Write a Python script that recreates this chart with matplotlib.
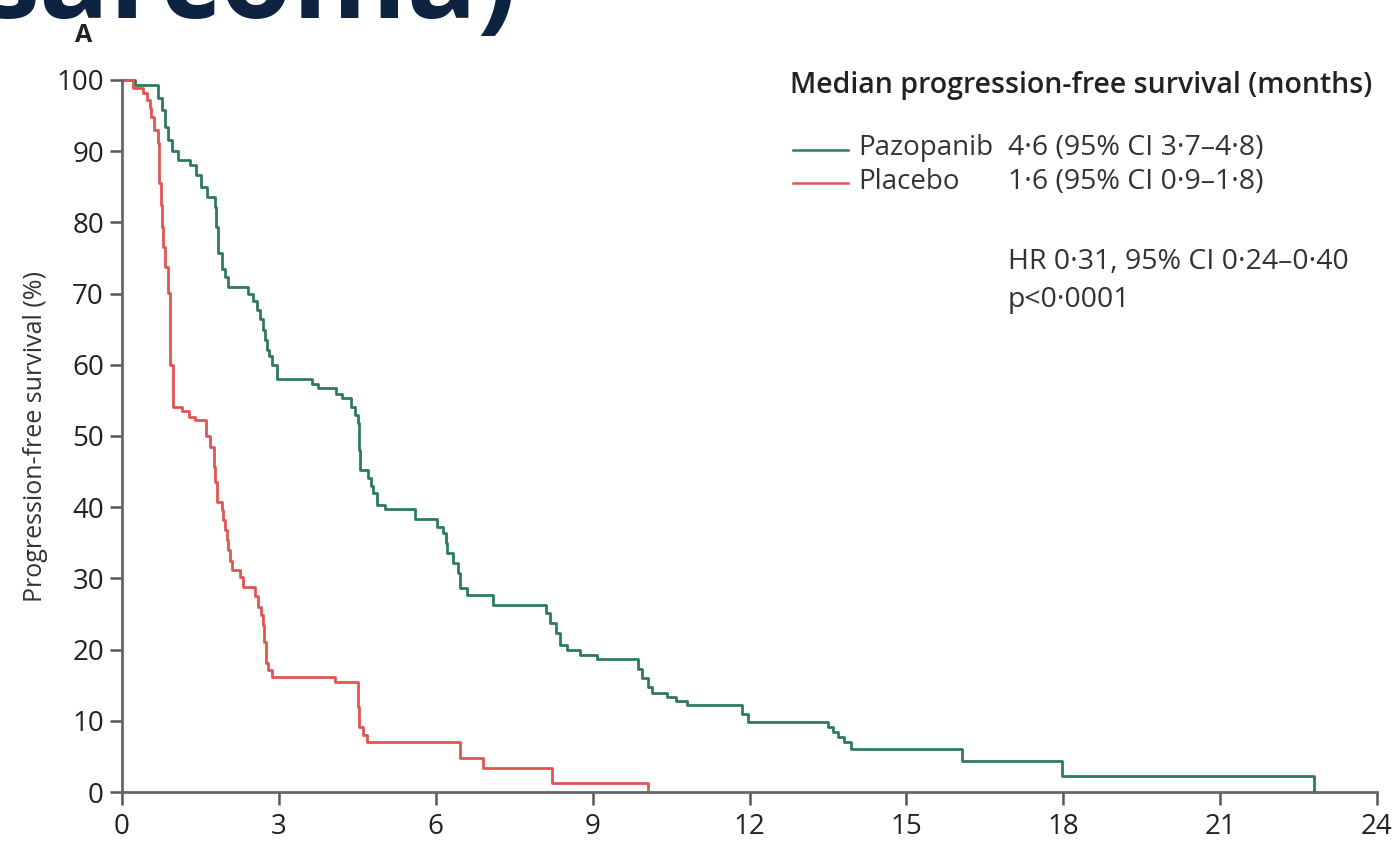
import matplotlib.pyplot as plt

# Kaplan-Meier step data (months, % progression-free)
pazopanib_t = [0, 0.24, 0.68, 0.76, 0.82, 0.88, 0.95, 1.07, 1.3, 1.42, 1.52, 1.62, 1.77, 1.8,
               1.83, 1.92, 1.97, 2.03, 2.4, 2.5, 2.58, 2.64, 2.69, 2.74, 2.77, 2.82, 2.87, 2.96,
               3.63, 3.75, 4.1, 4.2, 4.38, 4.45, 4.51, 4.53, 4.55, 4.71, 4.76, 4.8, 4.88, 5.03,
               5.6, 6.03, 6.14, 6.2, 6.22, 6.33, 6.43, 6.47, 6.6, 7.1, 8.1, 8.19, 8.3, 8.38,
               8.51, 8.76, 9.09, 9.86, 9.95, 10.05, 10.14, 10.43, 10.6, 10.8, 11.85, 11.97,
               13.5, 13.6, 13.7, 13.8, 13.94, 16.06, 17.97, 22.8]
pazopanib_s = [100, 99.3, 97.5, 95.8, 93.4, 91.6, 90.0, 88.8, 88.0, 86.7, 85.0, 83.6, 82.2, 79.4,
               75.7, 73.5, 72.3, 70.9, 70.0, 69.0, 67.7, 66.5, 64.9, 63.5, 62.1, 61.2, 60.0, 58.0,
               57.3, 56.7, 55.9, 55.3, 54.1, 53.0, 51.8, 48.0, 45.2, 44.1, 43.0, 42.0, 40.3, 39.7,
               38.4, 37.2, 36.4, 35.0, 33.6, 32.2, 30.8, 28.7, 27.7, 26.3, 25.2, 23.7, 22.3, 20.6,
               19.9, 19.3, 18.7, 17.3, 16.0, 14.8, 13.9, 13.3, 12.8, 12.2, 11.0, 9.8,
               9.1, 8.4, 7.7, 7.0, 6.0, 4.4, 2.2, 0]

placebo_t = [0, 0.21, 0.4, 0.48, 0.53, 0.56, 0.62, 0.69, 0.7, 0.71, 0.74, 0.76, 0.79, 0.82,
             0.88, 0.91, 0.92, 0.97, 1.14, 1.29, 1.4, 1.6, 1.68, 1.75, 1.78, 1.81, 1.91, 1.94,
             1.97, 2.0, 2.03, 2.07, 2.1, 2.25, 2.31, 2.54, 2.6, 2.65, 2.69, 2.72, 2.75, 2.8,
             2.87, 4.07, 4.51, 4.53, 4.6, 4.68, 6.47, 6.91, 8.23, 10.05]
placebo_s = [100, 98.9, 98.2, 97.2, 96.0, 94.8, 93.0, 91.2, 88.5, 85.6, 82.5, 79.4, 76.5, 73.7,
             70.1, 65.3, 60.0, 54.1, 53.5, 52.7, 52.2, 50.0, 48.5, 45.6, 43.5, 40.8, 39.6, 38.2,
             36.8, 35.4, 34.0, 32.5, 31.2, 30.2, 28.8, 27.5, 26.0, 24.8, 23.5, 21.0, 18.1, 17.2,
             16.2, 15.4, 12.0, 9.1, 8.0, 7.0, 4.8, 3.4, 1.3, 0]

x_ticks = [0, 3, 6, 9, 12, 15, 18, 21, 24]
y_ticks = [0, 10, 20, 30, 40, 50, 60, 70, 80, 90, 100]

green = '#2e7a5e'
red = '#e05550'
W, H = 1397, 847

plt.rcParams['font.family'] = ['Open Sans', 'DejaVu Sans']

fig = plt.figure(figsize=(W / 100, H / 100), dpi=100)
ax = fig.add_axes([122 / W, 1 - 792 / H, (1377 - 122) / W, (792 - 80) / H])

ax.plot(pazopanib_t, pazopanib_s, drawstyle='steps-post', color=green, lw=2, clip_on=False)
ax.plot(placebo_t, placebo_s, drawstyle='steps-post', color=red, lw=2, clip_on=False)

ax.set_xlim(0, 24)
ax.set_ylim(0, 100)
ax.set_xticks(x_ticks)
ax.set_yticks(y_ticks)
for s in ['top', 'right']:
    ax.spines[s].set_visible(False)
for s in ['left', 'bottom']:
    ax.spines[s].set_color('#666666')
    ax.spines[s].set_linewidth(2)
ax.tick_params(direction='out', length=9, width=1.8, color='#555555',
               labelsize=20, labelcolor='#222222')
ax.tick_params(axis='x', pad=6)
ax.tick_params(axis='y', pad=4)
ax.set_ylabel('Progression-free survival (%)', fontsize=18, color='#333333', labelpad=6)

# header + legend block
def fx(px):
    return px / W

def fy(py):
    return 1 - py / H

fig.text(fx(790), fy(86), 'Median progression-free survival (months)', fontsize=20.5,
         fontweight='semibold', color='#222222', va='center')
fig.add_artist(plt.Line2D([fx(793), fx(848)], [fy(150), fy(150)], color=green, lw=1.8))
fig.add_artist(plt.Line2D([fx(793), fx(848)], [fy(183), fy(183)], color=red, lw=1.8))
fig.text(fx(858), fy(148), 'Pazopanib', fontsize=20, color='#333333', va='center')
fig.text(fx(858), fy(182), 'Placebo', fontsize=20, color='#333333', va='center')
fig.text(fx(1008), fy(148), '4·6 (95% CI 3·7–4·8)', fontsize=20.5, color='#333333', va='center')
fig.text(fx(1008), fy(182), '1·6 (95% CI 0·9–1·8)', fontsize=20.5, color='#333333', va='center')
fig.text(fx(1008), fy(262), 'HR 0·31, 95% CI 0·24–0·40', fontsize=20.5, color='#333333', va='center')
fig.text(fx(1008), fy(300), 'p<0·0001', fontsize=20.5, color='#333333', va='center')

# cropped slide title and panel label
fig.text(fx(-18), fy(18), 'sarcoma)', fontsize=84, fontweight='bold', color='#0d2340',
         va='baseline', zorder=1)
fig.text(fx(84), fy(35), 'A', fontsize=18, fontweight='bold', color='#222222',
         ha='center', va='center', zorder=5)

fig.savefig('out.png', dpi=100)
